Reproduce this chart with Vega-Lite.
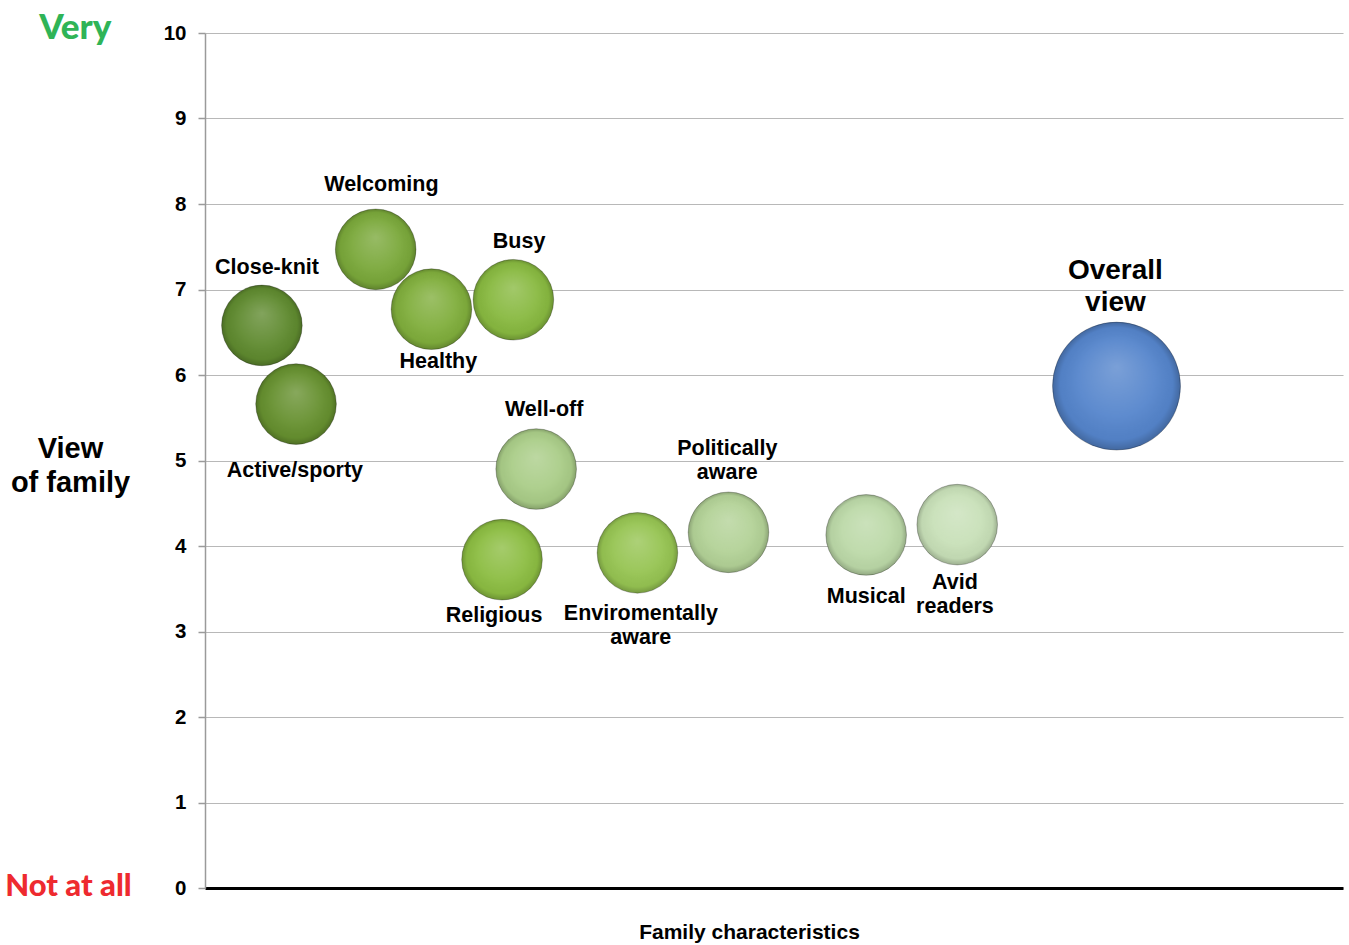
{
  "$schema": "https://vega.github.io/schema/vega-lite/v6.json",
  "width": 1138,
  "height": 855,
  "autosize": {"type": "none"},
  "padding": {"left": 205, "top": 33, "right": 6, "bottom": 57},
  "background": "white",
  "config": {"view": {"stroke": null}, "font": "Liberation Sans"},
  "datasets": {
    "bubbles": [
      {"name": "Close-knit", "x": 5.0, "y": 6.58, "s": 1},
      {"name": "Active/sporty", "x": 8.0, "y": 5.66, "s": 1},
      {"name": "Welcoming", "x": 15.0, "y": 7.47, "s": 1},
      {"name": "Healthy", "x": 19.9, "y": 6.77, "s": 1},
      {"name": "Busy", "x": 27.1, "y": 6.88, "s": 1},
      {"name": "Well-off", "x": 29.1, "y": 4.9, "s": 1},
      {"name": "Religious", "x": 26.1, "y": 3.84, "s": 1},
      {"name": "Enviromentally aware", "x": 38.0, "y": 3.92, "s": 1},
      {"name": "Politically aware", "x": 46.0, "y": 4.16, "s": 1},
      {"name": "Musical", "x": 58.1, "y": 4.13, "s": 1},
      {"name": "Avid readers", "x": 66.1, "y": 4.25, "s": 1},
      {"name": "Overall view", "x": 80.1, "y": 5.87, "s": 2.52}
    ],
    "labels": [
      {"label": "Close-knit", "x": 5.45, "y": 7.25, "big": false},
      {"label": "Welcoming", "x": 15.5, "y": 8.22, "big": false},
      {"label": "Busy", "x": 27.6, "y": 7.56, "big": false},
      {"label": "Healthy", "x": 20.5, "y": 6.15, "big": false},
      {"label": "Active/sporty", "x": 7.9, "y": 4.88, "big": false},
      {"label": "Well-off", "x": 29.8, "y": 5.59, "big": false},
      {"label": "Politically\naware", "x": 45.9, "y": 5.13, "big": false},
      {"label": "Religious", "x": 25.4, "y": 3.18, "big": false},
      {"label": "Enviromentally\naware", "x": 38.3, "y": 3.2, "big": false},
      {"label": "Musical", "x": 58.1, "y": 3.4, "big": false},
      {"label": "Avid\nreaders", "x": 65.9, "y": 3.57, "big": false},
      {"label": "Overall\nview", "x": 80.0, "y": 7.22, "big": true}
    ],
    "side": [
      {"label": "Very", "x": -11.4, "y": 10.06},
      {"label": "Not at all", "x": -12.0, "y": 0.01}
    ]
  },
  "encoding": {
    "x": {
      "field": "x", "type": "quantitative",
      "scale": {"domain": [0, 100], "nice": false, "zero": false},
      "axis": {
        "labels": false, "ticks": false, "grid": false,
        "domainColor": "#000000", "domainWidth": 3,
        "title": "Family characteristics",
        "titleX": 544, "titleY": 44, "titleAlign": "center", "titleBaseline": "middle",
        "titleFontSize": 21, "titleFontWeight": "bold", "titleColor": "#000000",
        "titleFont": "Liberation Sans"
      }
    },
    "y": {
      "field": "y", "type": "quantitative",
      "scale": {"domain": [0, 10], "nice": false},
      "axis": {
        "values": [0, 1, 2, 3, 4, 5, 6, 7, 8, 9, 10],
        "grid": true, "gridColor": "#b8b8b8", "gridWidth": 1.2,
        "domainColor": "#9a9a9a", "domainWidth": 1.5,
        "tickColor": "#9a9a9a", "tickSize": 7, "tickWidth": 1.5,
        "labelFontSize": 20.5, "labelFontWeight": "bold", "labelColor": "#000000",
        "labelPadding": 12, "labelFont": "Liberation Sans",
        "title": ["View", "of family"],
        "titleAngle": 0, "titleX": -135, "titleY": 415,
        "titleAlign": "center", "titleBaseline": "middle",
        "titleFontSize": 29, "titleFontWeight": "bold", "titleColor": "#000000",
        "titleLineHeight": 34, "titleFont": "Liberation Sans"
      }
    }
  },
  "layer": [
    {
      "data": {"name": "bubbles"},
      "mark": {"type": "circle", "opacity": 1},
      "encoding": {
        "size": {"field": "s", "type": "quantitative", "scale": {"domain": [0, 1], "range": [0, 6500]}, "legend": null},
        "color": {
          "field": "name", "type": "nominal", "legend": null,
          "scale": {
            "domain": ["Close-knit", "Active/sporty", "Welcoming", "Healthy", "Busy", "Well-off", "Religious", "Enviromentally aware", "Politically aware", "Musical", "Avid readers", "Overall view"],
            "range": ["#5f8a2f", "#66902f", "#7aa83a", "#80ae3c", "#88b940", "#aacd88", "#8cbd42", "#96c452", "#b3d297", "#bcd9a8", "#c8e0b8", "#5585cc"]
          }
        }
      }
    },
    {
      "data": {"name": "bubbles"},
      "mark": {
        "type": "circle", "opacity": 1,
        "fill": {
          "gradient": "radial", "x1": 0.5, "y1": 0.35, "r1": 0, "x2": 0.5, "y2": 0.5, "r2": 0.5,
          "stops": [
            {"offset": 0, "color": "rgba(255,255,255,0.22)"},
            {"offset": 0.6, "color": "rgba(255,255,255,0.05)"},
            {"offset": 0.88, "color": "rgba(0,0,0,0.04)"},
            {"offset": 1, "color": "rgba(0,0,0,0.22)"}
          ]
        },
        "stroke": "rgba(0,0,0,0.25)", "strokeWidth": 1
      },
      "encoding": {
        "size": {"field": "s", "type": "quantitative", "scale": {"domain": [0, 1], "range": [0, 6500]}, "legend": null}
      }
    },
    {
      "data": {"name": "labels"},
      "transform": [{"filter": "!datum.big"}],
      "mark": {"type": "text", "font": "Liberation Sans", "fontWeight": "bold", "fontSize": 21.5, "lineBreak": "\n", "lineHeight": 24, "align": "center", "baseline": "middle", "color": "#000000"},
      "encoding": {"text": {"field": "label"}}
    },
    {
      "data": {"name": "labels"},
      "transform": [{"filter": "datum.big"}],
      "mark": {"type": "text", "font": "Liberation Sans", "fontWeight": "bold", "fontSize": 28, "lineBreak": "\n", "lineHeight": 32, "align": "center", "baseline": "middle", "color": "#000000"},
      "encoding": {"text": {"field": "label"}}
    },
    {
      "data": {"name": "side"},
      "mark": {"type": "text", "font": "Lato", "fontWeight": 900, "align": "center", "baseline": "middle"},
      "encoding": {
        "text": {"field": "label"},
        "size": {"condition": {"test": "datum.label === 'Very'", "value": 35}, "value": 31},
        "color": {"condition": {"test": "datum.label === 'Very'", "value": "#2fb457"}, "value": "#ee2a2f"}
      }
    }
  ]
}
